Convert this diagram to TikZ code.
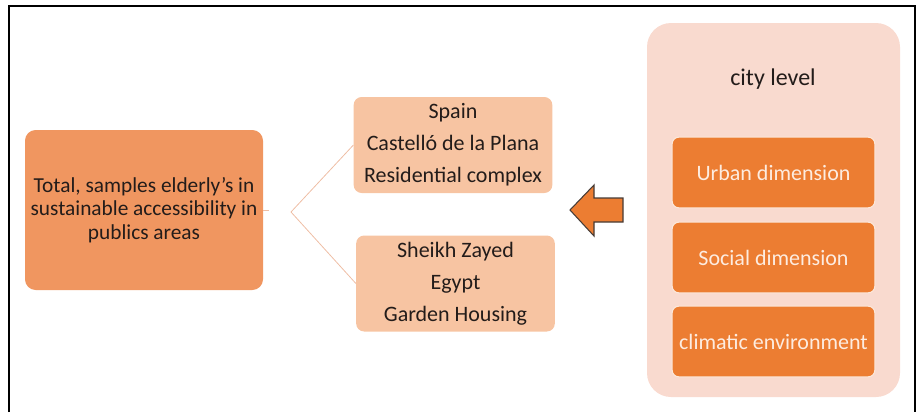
\documentclass[tikz,border=0pt]{standalone}
\usepackage{fontspec}
\setmainfont{Carlito}
\definecolor{boxorange}{RGB}{240,150,96}
\definecolor{boxpeach}{RGB}{247,196,162}
\definecolor{boxpink}{RGB}{249,218,207}
\definecolor{dimorange}{RGB}{236,125,50}
\definecolor{dimtext}{RGB}{253,236,224}
\definecolor{forkline}{RGB}{238,190,165}
\definecolor{txtdark}{RGB}{35,28,26}

\begin{document}
\begin{tikzpicture}[x=0.75pt,y=0.75pt,yscale=-1,xscale=1,
  mainbox/.style={rounded corners=8pt, fill=boxorange, text=txtdark, align=center, minimum width=178.5pt, minimum height=120pt, inner sep=0pt, font=\fontsize{16}{17.5}\selectfont},
  casebox/.style={rounded corners=6pt, fill=boxpeach, text=txtdark, align=center, minimum width=149pt, minimum height=72pt, inner sep=0pt, font=\fontsize{16.5}{24}\selectfont},
  dimbox/.style={rounded corners=5pt, fill=dimorange, draw={rgb,255:red,252;green,232;blue,218}, line width=0.8pt, text=dimtext, align=center, minimum width=152pt, minimum height=53pt, inner sep=0pt, font=\fontsize{16.5}{18}\selectfont},
  fork/.style={draw=forkline, line width=0.6pt}]
	\useasboundingbox (0,0) rectangle (922,412);
	% frame
	\draw [line width=0.8pt] (9,412) -- (9,6) -- (915,6) -- (915,412);
	% right panel
	\fill [boxpink, rounded corners=18pt] (647,23) rectangle (900,397);
	\node (city) [text=txtdark, font=\fontsize{18}{22}\selectfont] at (773,79) {city level};
	\node (urban) [dimbox] at (773.5,172.5) {Urban dimension};
	\node (social) [dimbox] at (773.5,257.5) {Social dimension};
	\node (climate) [dimbox] at (773.5,341.5) {climatic environment};
	% arrow
	\draw [fill=dimorange, draw={rgb,255:red,70;green,60;blue,55}, line width=0.8pt] (570,210) -- (594,185) -- (594,198) -- (623,198) -- (623,222) -- (594,222) -- (594,236) -- cycle;
	% case boxes
	\node (spain) [casebox] at (453,145) {Spain\\Castelló de la Plana\\Residential complex};
	\node (egypt) [casebox] at (455.5,283.5) {Sheikh Zayed\\Egypt\\Garden Housing};
	% main box
	\node (total) [mainbox] at (144,210) {Total, samples elderly’s in\\sustainable accessibility in\\publics areas};
	% connectors
	\coordinate (stub) at (269,210);
	\coordinate (split) at (291,212);
	\draw [fork] (total.east) -- (stub);
	\draw [fork] (split) -- (spain.west);
	\draw [fork] (split) -- (egypt.west);
\end{tikzpicture}
\end{document}
